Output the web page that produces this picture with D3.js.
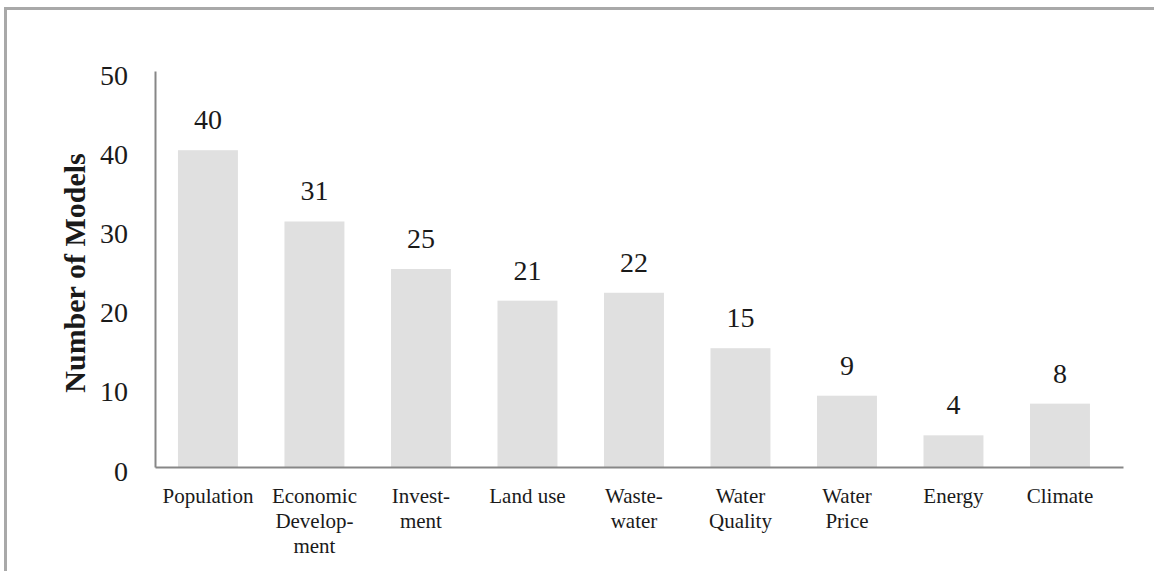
<!DOCTYPE html>
<html>
<head>
<meta charset="utf-8">
<script src="https://cdn.jsdelivr.net/npm/d3@7"></script>
<style>
  body { margin: 0; background: #fff; }
  text { font-family: "Liberation Serif", "Times New Roman", serif; fill: #1a1a1a; }
</style>
</head>
<body>
<div id="chart"></div>
<script>
'use strict';

const categories = ["Population", "Economic Development", "Investment", "Land use", "Wastewater",
    "Water Quality", "Water Price", "Energy", "Climate"];
const labelLines = [["Population"], ["Economic", "Develop-", "ment"], ["Invest-", "ment"], ["Land use"],
    ["Waste-", "water"], ["Water", "Quality"], ["Water", "Price"], ["Energy"], ["Climate"]];
const counts = [40, 31, 25, 21, 22, 15, 9, 4, 8];
const yTicks = [0, 10, 20, 30, 40, 50];

const width = 1154;
const height = 571;
const plot = { left: 155, right: 1123, top: 71, bottom: 467 };

const svg = d3.select("#chart")
    .append("svg")
    .attr("width", width)
    .attr("height", height);

// outer frame, cut off at the right and bottom like the source picture
svg.append("rect")
    .attr("x", 5.5)
    .attr("y", 8.5)
    .attr("width", width + 10)
    .attr("height", height + 10)
    .attr("fill", "none")
    .attr("stroke", "#a9a9a9")
    .attr("stroke-width", 3);

const x = d3.scaleBand()
    .domain(categories)
    .range([plot.left, plot.right])
    .paddingInner(0.437)
    .paddingOuter(0.263)
    .align(0.41);

const y = d3.scaleLinear()
    .domain([0, 50])
    .range([plot.bottom, plot.top]);

svg.selectAll("rect.bar")
    .data(counts)
    .join("rect")
    .attr("class", "bar")
    .attr("x", (d, i) => x(categories[i]))
    .attr("y", d => y(d))
    .attr("width", x.bandwidth())
    .attr("height", d => y(0) - y(d))
    .attr("fill", "#e0e0e0");

svg.selectAll("text.value")
    .data(counts)
    .join("text")
    .attr("class", "value")
    .attr("x", (d, i) => x(categories[i]) + x.bandwidth() / 2)
    .attr("y", d => y(d) - 21)
    .attr("text-anchor", "middle")
    .style("font-size", "28px")
    .text(d => d);

const yAxis = svg.append("g")
    .attr("transform", `translate(${plot.left},0)`)
    .call(d3.axisLeft(y).tickValues(yTicks).tickSize(0).tickPadding(27));
yAxis.select(".domain").attr("stroke", "#878787").attr("stroke-width", 2);
yAxis.selectAll("text")
    .attr("dy", "0.47em")
    .style("font-size", "28px")
    .style("font-family", "'Liberation Serif', serif")
    .attr("fill", "#1a1a1a");

const xAxis = svg.append("g")
    .attr("transform", `translate(0,${plot.bottom})`)
    .call(d3.axisBottom(x).tickSize(0).tickSizeOuter(0).tickFormat(""));
xAxis.select(".domain").attr("stroke", "#878787").attr("stroke-width", 2);
xAxis.selectAll(".tick text")
    .attr("y", 0)
    .attr("dy", null)
    .style("font-size", "21px")
    .style("font-family", "'Liberation Serif', serif")
    .attr("fill", "#1a1a1a")
    .each(function (d, i) {
        d3.select(this).selectAll("tspan")
            .data(labelLines[i])
            .join("tspan")
            .attr("x", 0)
            .attr("y", (t, k) => 36 + k * 25)
            .text(t => t);
    });

svg.append("text")
    .attr("transform", `translate(85,${(plot.top + plot.bottom) / 2 + 4}) rotate(-90)`)
    .attr("text-anchor", "middle")
    .style("font-size", "30px")
    .style("font-weight", "bold")
    .text("Number of Models");
</script>
</body>
</html>
